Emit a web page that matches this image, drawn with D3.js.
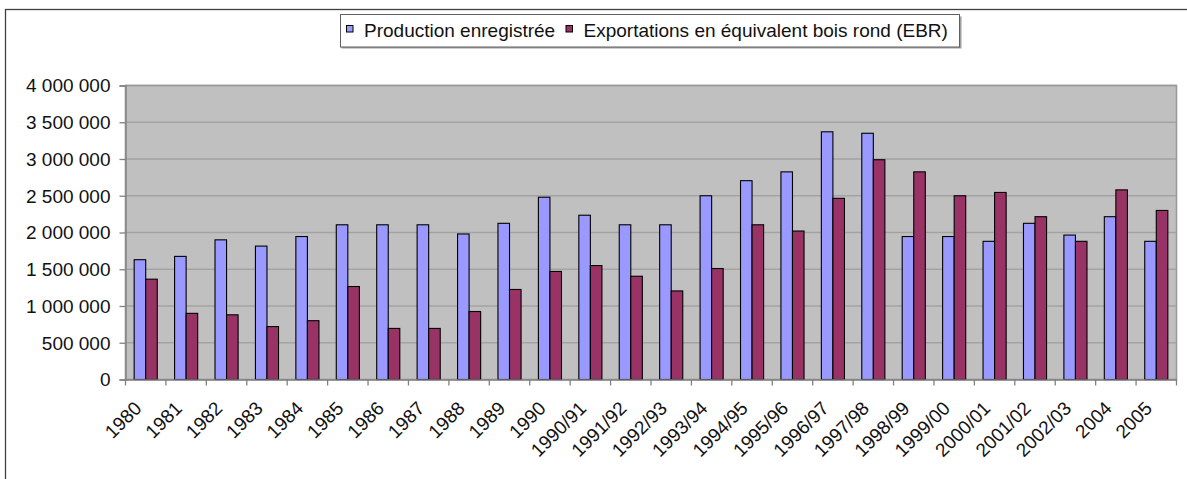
<!DOCTYPE html>
<html><head><meta charset="utf-8">
<script src="https://cdn.jsdelivr.net/npm/d3@7/dist/d3.min.js"></script>
<style>
html,body{margin:0;padding:0;background:#fff;}
svg{display:block;font-family:"Liberation Sans",Arial,sans-serif;}
</style></head>
<body>
<svg id="chart" width="1187" height="479"></svg>
<script>
const categories = ["1980","1981","1982","1983","1984","1985","1986","1987","1988","1989","1990","1990/91","1991/92","1992/93","1993/94","1994/95","1995/96","1996/97","1997/98","1998/99","1999/00","2000/01","2001/02","2002/03","2004","2005"];
const production = [1630000,1675000,1900000,1815000,1945000,2105000,2105000,2105000,1980000,2125000,2480000,2235000,2105000,2105000,2500000,2705000,2825000,3370000,3350000,1945000,1945000,1880000,2125000,1965000,2215000,1880000];
const exportations = [1365000,900000,880000,720000,800000,1265000,695000,695000,925000,1225000,1470000,1550000,1405000,1205000,1510000,2105000,2020000,2465000,2990000,2825000,2500000,2545000,2215000,1880000,2580000,2300000];
const seriesNames = ["Production enregistrée","Exportations en équivalent bois rond (EBR)"];
const seriesColors = ["#9999FF","#993366"];
const yTicks = [0,500000,1000000,1500000,2000000,2500000,3000000,3500000,4000000];

const svg = d3.select("#chart");
const plot = {left:125.5, top:85.5, right:1176.5, bottom:379.5};
const FS = "19px";

// outer frame
svg.append("rect").attr("x",5.5).attr("y",9.5).attr("width",1200).attr("height",500)
  .attr("fill","none").attr("stroke","#404040").attr("stroke-width",1.3);

const x = d3.scaleBand().domain(categories).range([plot.left, plot.right]).paddingInner(0).paddingOuter(0);
const barW = x.bandwidth()/3.5;
const xs = d3.scaleBand().domain([0,1]).range([0, 2*barW]);
const y = d3.scaleLinear().domain([0,4000000]).range([plot.bottom, plot.top]);

// plot area
svg.append("rect").attr("x",plot.left).attr("y",plot.top)
  .attr("width",plot.right-plot.left).attr("height",plot.bottom-plot.top)
  .attr("fill","#C0C0C0");

// gridlines
svg.append("g").selectAll("line").data(yTicks.slice(1)).join("line")
  .attr("x1",plot.left).attr("x2",plot.right)
  .attr("y1",d=>y(d)).attr("y2",d=>y(d))
  .attr("stroke","#A3A3A3").attr("stroke-width",1.5);

svg.append("rect").attr("x",plot.left).attr("y",plot.top)
  .attr("width",plot.right-plot.left).attr("height",plot.bottom-plot.top)
  .attr("fill","none").attr("stroke","#9A9A9A").attr("stroke-width",1.6);

// bars
const series = [production, exportations];
series.forEach((vals, si) => {
  svg.append("g").selectAll("rect").data(categories).join("rect")
    .attr("x", (c) => x(c) + 0.75*barW + xs(si))
    .attr("y", (c,i) => y(vals[i]))
    .attr("width", barW)
    .attr("height", (c,i) => y(0) - y(vals[i]))
    .attr("fill", seriesColors[si])
    .attr("stroke","#000").attr("stroke-width",1.1);
});

// y axis
const fmt = v => d3.format(",")(v).replace(/,/g," ");
const yAxis = d3.axisLeft(y).tickValues(yTicks).tickFormat(fmt).tickSize(6).tickPadding(9);
const gy = svg.append("g").attr("transform",`translate(${plot.left},0)`).call(yAxis);
gy.select(".domain").attr("stroke","#808080").attr("stroke-width",1.3);
gy.selectAll(".tick line").attr("stroke","#808080").attr("stroke-width",1.3);
gy.selectAll("text").attr("font-size",FS).attr("fill","#111").attr("font-family","Liberation Sans, Arial, sans-serif").attr("dy","0.34em");

// x axis
const xAxis = d3.axisBottom(x).tickSize(0).tickFormat("");
const gx = svg.append("g").attr("transform",`translate(0,${plot.bottom})`).call(xAxis);
gx.select(".domain").attr("stroke","#808080").attr("stroke-width",1.3);
// tick marks at category boundaries
const bounds = categories.map(c => x(c)).concat([plot.right]);
svg.append("g").selectAll("line").data(bounds).join("line")
  .attr("x1",d=>d).attr("x2",d=>d).attr("y1",plot.bottom).attr("y2",plot.bottom+6)
  .attr("stroke","#808080").attr("stroke-width",1.3);
// labels
svg.append("g").selectAll("text").data(categories).join("text")
  .attr("transform", c => `translate(${x(c)+x.bandwidth()/2 - 3},${plot.bottom+30}) rotate(-45)`)
  .attr("text-anchor","end")
  .attr("font-size",FS).attr("fill","#111")
  .text(c => c);

// legend
const lg = svg.append("g");
lg.append("rect").attr("x",341.5).attr("y",16.5).attr("width",620).attr("height",32)
  .attr("fill","#A0A0A0");
lg.append("rect").attr("x",340.5).attr("y",14.5).attr("width",619).attr("height",32.5)
  .attr("fill","#fff").attr("stroke","#606060").attr("stroke-width",1);
const legX = [346.5, 566];
seriesNames.forEach((n,i)=>{
  lg.append("rect").attr("x",legX[i]).attr("y",25.5).attr("width",6.5).attr("height",6.5)
    .attr("fill",seriesColors[i]).attr("stroke","#000").attr("stroke-width",1);
  lg.append("text").attr("x",legX[i]+17.5).attr("y",37).attr("font-size",FS).attr("fill","#111").text(n);
});
</script>
</body></html>
